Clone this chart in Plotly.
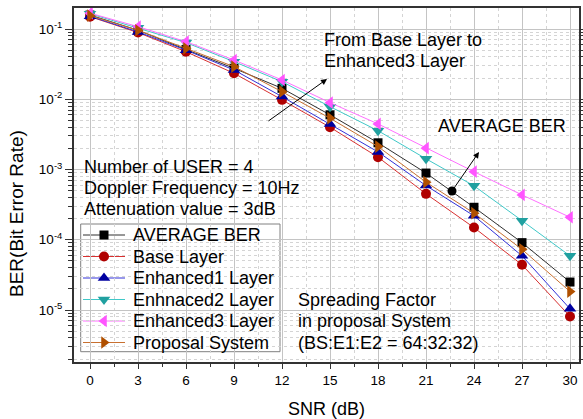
import plotly.graph_objects as go

snr = [0, 3, 6, 9, 12, 15, 18, 21, 24, 27, 30]

ber_average = [0.158, 0.096, 0.051, 0.0276, 0.0143, 0.0060, 0.0024, 0.00089, 0.00029, 0.000091, 0.000025]
ber_base = [0.150, 0.089, 0.0475, 0.0234, 0.0098, 0.0040, 0.0015, 0.00045, 0.000149, 0.000044, 0.0000081]
ber_enh1 = [0.152, 0.091, 0.050, 0.0261, 0.0109, 0.00446, 0.00178, 0.00059, 0.000219, 0.000059, 0.0000104]
ber_enh2 = [0.165, 0.104, 0.064, 0.0343, 0.0178, 0.00785, 0.00357, 0.00142, 0.000585, 0.000187, 0.000059]
ber_enh3 = [0.168, 0.108, 0.066, 0.0362, 0.0188, 0.00895, 0.00446, 0.00201, 0.00093, 0.000435, 0.000209]
ber_proposal = [0.155, 0.096, 0.053, 0.0291, 0.0128, 0.00537, 0.00212, 0.00066, 0.000239, 0.000073, 0.0000183]

series_names = ["AVERAGE BER", "Base Layer", "Enhanced1 Layer", "Enhnaced2 Layer",
                "Enhanced3 Layer", "Proposal System"]
series_values = [ber_average, ber_base, ber_enh1, ber_enh2, ber_enh3, ber_proposal]

y_tick_vals = [1e-5, 1e-4, 1e-3, 1e-2, 1e-1]
y_tick_text = ["10<sup>-5</sup>", "10<sup>-4</sup>", "10<sup>-3</sup>", "10<sup>-2</sup>", "10<sup>-1</sup>"]

FONT = "Liberation Sans, Arial, sans-serif"

styles = [
    dict(symbol="square", size=9, mcolor="#000000", lcolor="#303030"),
    dict(symbol="circle", size=10, mcolor="#B00000", lcolor="#D83030"),
    dict(symbol="triangle-up", size=11, mcolor="#0000A0", lcolor="#3030D8"),
    dict(symbol="triangle-down", size=11, mcolor="#20A0A0", lcolor="#40C8C8"),
    dict(symbol="triangle-left", size=11, mcolor="#FF55FF", lcolor="#FF70FF"),
    dict(symbol="triangle-right", size=11, mcolor="#B05000", lcolor="#C87030"),
]

# plot area in pixels: x 74..579, y 8..362
L, R, T, B = 74, 579, 8, 362


def px_x(px):
    return (px - 90) / 16.0


def px_y(py):
    return -1 - (py - 29) / 70.25


def pap_x(px):
    return (px - L) / (R - L)


def pap_y(py):
    return (B - py) / (B - T)


fig = go.Figure()
for name, vals, st in zip(series_names, series_values, styles):
    fig.add_trace(go.Scatter(
        x=snr, y=vals, name=name, mode="lines+markers", showlegend=False,
        line=dict(color=st["lcolor"], width=1),
        marker=dict(symbol=st["symbol"], size=st["size"], color=st["mcolor"],
                    line=dict(width=0)),
    ))

# black dot marking the AVERAGE BER arrow origin
fig.add_trace(go.Scatter(x=[px_x(452)], y=[10 ** px_y(191)], mode="markers", showlegend=False,
                         marker=dict(symbol="circle", size=9, color="#000000"),
                         hoverinfo="skip"))

grid_major = "#C4C4C4"
grid_minor = "#D4D4D4"

fig.update_layout(
    width=583, height=419,
    margin=dict(l=L, r=583 - R, t=T, b=419 - B, autoexpand=False),
    paper_bgcolor="white", plot_bgcolor="white",
    font=dict(family=FONT, size=14, color="#000000"),
    showlegend=False,
    xaxis=dict(
        range=[px_x(L), px_x(R)], tick0=0, dtick=3,
        showline=True, linecolor="#333333", linewidth=2, mirror=True,
        ticks="outside", ticklen=5, tickwidth=1, tickcolor="#333333",
        tickfont=dict(size=13.5),
        showgrid=True, gridcolor=grid_major, gridwidth=1.3,
        zeroline=False,
        minor=dict(tick0=0, dtick=1.5, ticks="outside", ticklen=3, tickcolor="#333333",
                   showgrid=True, gridcolor=grid_minor, griddash="dot", gridwidth=1),
        title=dict(text="SNR (dB)", font=dict(size=18), standoff=15),
    ),
    xaxis2=dict(
        overlaying="x", matches="x", side="top",
        tick0=0, dtick=3, ticks="inside", ticklen=5, tickcolor="#333333",
        showticklabels=False, showgrid=False, zeroline=False, showline=False,
        minor=dict(tick0=0, dtick=1.5, ticks="inside", ticklen=3, tickcolor="#333333",
                   showgrid=False),
    ),
    yaxis=dict(
        type="log", range=[px_y(B), px_y(T)],
        tickmode="array", tickvals=y_tick_vals, ticktext=y_tick_text,
        showline=True, linecolor="#333333", linewidth=2, mirror="ticks",
        ticks="outside", ticklen=7, tickwidth=1, tickcolor="#333333",
        tickfont=dict(size=13.5),
        showgrid=True, gridcolor=grid_major, gridwidth=1.3,
        zeroline=False,
        minor=dict(dtick="D1", ticks="outside", ticklen=4, tickcolor="#333333",
                   showgrid=True, gridcolor=grid_minor, griddash="dot", gridwidth=1),
    ),
)

texts = [
    ("From Base Layer to", 322.7, 40),
    ("Enhanced3 Layer", 322.7, 61),
    ("AVERAGE BER", 436.7, 126),
    ("Number of USER = 4", 82.7, 166.7),
    ("Doppler Frequency = 10Hz", 82.7, 187.7),
    ("Attenuation value = 3dB", 82.7, 209),
    ("Spreading Factor", 297.3, 300),
    ("in proposal System", 297.3, 321),
    ("(BS:E1:E2 = 64:32:32)", 297.3, 342.7),
]
for t, px, py in texts:
    fig.add_annotation(x=pap_x(px - 1), y=pap_y(py), xref="paper", yref="paper", text=t,
                       showarrow=False, xanchor="left", yanchor="middle",
                       font=dict(family=FONT, size=18, color="#000000"))

# arrows
arrows = [((267, 122), (327, 79)), ((452, 191), (479, 152))]
for (x0, y0), (x1, y1) in arrows:
    fig.add_annotation(x=px_x(x1), y=px_y(y1), ax=px_x(x0), ay=px_y(y0),
                       xref="x", yref="y", axref="x", ayref="y", text="",
                       showarrow=True, arrowhead=2, arrowsize=1.2, arrowwidth=1,
                       arrowcolor="#000000")

# legend (drawn manually to match the compact row spacing)
lg_left, lg_right, lg_top, lg_bottom = 80.7, 280, 224, 351.7
fig.add_shape(type="rect", xref="paper", yref="paper", layer="between",
              x0=pap_x(lg_left), x1=pap_x(lg_right), y0=pap_y(lg_bottom), y1=pap_y(lg_top),
              fillcolor="white", line=dict(color="#808080", width=1))
for i, (name, st) in enumerate(zip(series_names, styles)):
    yy = 235 + 21.5 * i
    fig.add_shape(type="line", xref="paper", yref="paper", layer="between",
                  x0=pap_x(83), x1=pap_x(125), y0=pap_y(yy), y1=pap_y(yy),
                  line=dict(color=st["lcolor"], width=1))
    fig.add_trace(go.Scatter(x=[px_x(104)], y=[10 ** px_y(yy)], mode="markers",
                             showlegend=False, hoverinfo="skip",
                             marker=dict(symbol=st["symbol"], size=st["size"],
                                         color=st["mcolor"], line=dict(width=0))))
    fig.add_annotation(x=pap_x(130.5), y=pap_y(yy), xref="paper", yref="paper",
                       text=name, showarrow=False, xanchor="left", yanchor="middle",
                       font=dict(family=FONT, size=18, color="#000000"))

# y-axis title
fig.add_annotation(x=pap_x(16), y=pap_y(214), xref="paper", yref="paper",
                   text="BER(Bit Error Rate)", showarrow=False, textangle=-90,
                   xanchor="center", yanchor="middle",
                   font=dict(family=FONT, size=19, color="#000000"))

fig.write_html("out.html", config={"displayModeBar": False},
               post_script="document.body.style.margin='0';document.body.style.overflow='hidden';")
